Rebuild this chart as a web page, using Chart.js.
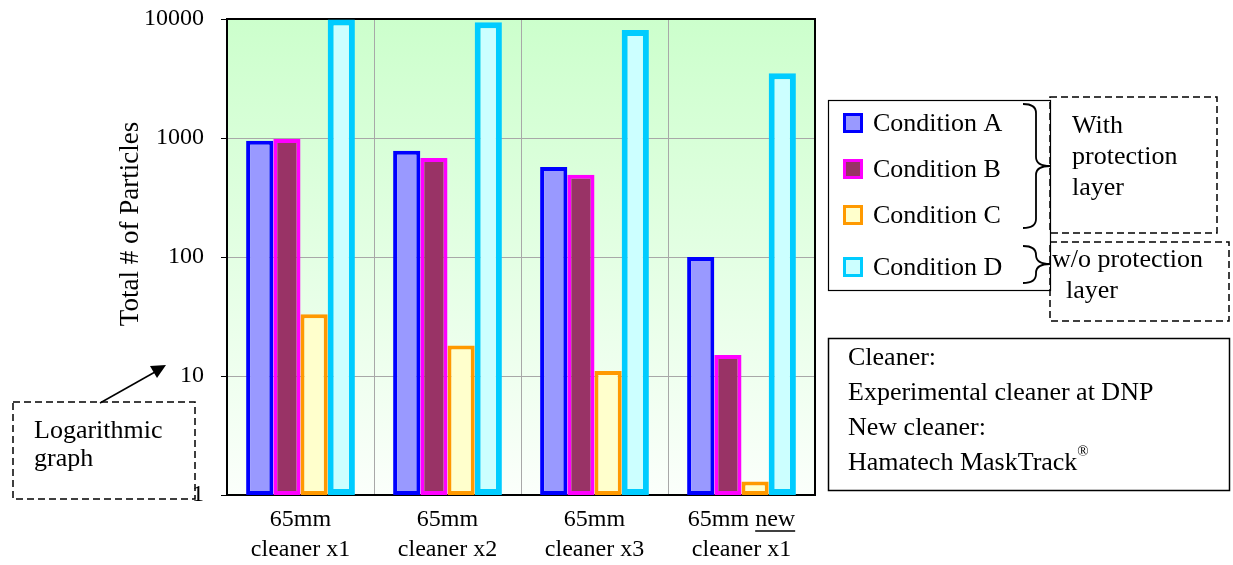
<!DOCTYPE html>
<html>
<head>
<meta charset="utf-8">
<script src="https://cdn.jsdelivr.net/npm/chart.js@4.4.0/dist/chart.umd.min.js"></script>
<style>
  html, body { margin: 0; padding: 0; background: #fff; }
  #wrap { width: 1233px; height: 565px; position: relative; }
</style>
</head>
<body>
<div id="wrap"><canvas id="chart"></canvas></div>
<script>
// data
const categories = [["65mm", "cleaner x1"], ["65mm", "cleaner x2"], ["65mm", "cleaner x3"], ["65mm new", "cleaner x1"]];
const seriesNames = ["Condition A", "Condition B", "Condition C", "Condition D"];
const condA = [950, 780, 570, 100];
const condB = [980, 680, 490, 15];
const condC = [33, 18, 11, 1.3];
const condD = [9900, 9400, 8100, 3500];
const yTicks = [1, 10, 100, 1000, 10000];

// styles
const fills = ["#9999ff", "#993366", "#ffffcc", "#ccffff"];
const borders = ["#0000ff", "#ff00ff", "#ff9900", "#00ccff"];
const borderWidths = [4, 4, 4, 6];

const SERIF = "'Liberation Serif', 'Times New Roman', serif";
Chart.defaults.font.family = SERIF;
Chart.defaults.color = "#000";

const values = [condA, condB, condC, condD];
const datasets = seriesNames.map((name, i) => ({
  label: name,
  data: values[i],
  backgroundColor: fills[i],
  borderColor: borders[i],
  borderWidth: borderWidths[i],
  borderSkipped: false,
  barPercentage: 1,
  categoryPercentage: 0.74
}));

function dashedRect(ctx, x, y, w, h) {
  ctx.save();
  ctx.setLineDash([7, 4]);
  ctx.lineWidth = 1.5;
  ctx.strokeStyle = "#000";
  ctx.strokeRect(x, y, w, h);
  ctx.restore();
}

// curly brace "}" with the tip pointing right
function brace(ctx, x0, yTop, yBot, yTip) {
  const x1 = x0 + 13, x2 = x0 + 27, r = 9;
  ctx.save();
  ctx.lineWidth = 1.8;
  ctx.strokeStyle = "#000";
  ctx.beginPath();
  ctx.moveTo(x0, yTop);
  ctx.quadraticCurveTo(x1, yTop, x1, yTop + r);
  ctx.lineTo(x1, yTip - r);
  ctx.quadraticCurveTo(x1, yTip, x2, yTip);
  ctx.quadraticCurveTo(x1, yTip, x1, yTip + r);
  ctx.lineTo(x1, yBot - r);
  ctx.quadraticCurveTo(x1, yBot, x0, yBot);
  ctx.stroke();
  ctx.restore();
}

const decor = {
  id: "decor",
  beforeDraw(chart) {
    const { ctx, chartArea: a } = chart;
    const g = ctx.createLinearGradient(0, a.top, 0, a.bottom);
    g.addColorStop(0, "#ccffcc");
    g.addColorStop(1, "#fbfffb");
    ctx.save();
    ctx.fillStyle = g;
    ctx.fillRect(a.left, a.top, a.right - a.left, a.bottom - a.top);
    ctx.restore();
  },
  beforeDatasetsDraw(chart) {
    const { ctx, chartArea: a } = chart;
    ctx.save();
    ctx.lineWidth = 2;
    ctx.strokeStyle = "#000";
    ctx.strokeRect(a.left, a.top, a.right - a.left, a.bottom - a.top);
    ctx.restore();
  },
  afterDraw(chart) {
    const { ctx } = chart;
    ctx.save();
    ctx.fillStyle = "#000";
    ctx.textBaseline = "middle";

    // y axis title
    ctx.save();
    ctx.translate(131, 224);
    ctx.rotate(-Math.PI / 2);
    ctx.textAlign = "center";
    ctx.font = "27px " + SERIF;
    ctx.fillText("Total # of Particles", 0, 0);
    ctx.restore();

    // underline "new" in the last category label
    const xs = chart.scales.x;
    const cx = xs.getPixelForValue(3);
    ctx.font = "24px " + SERIF;
    const wAll = ctx.measureText("65mm new").width;
    const wNew = ctx.measureText("new").width;
    ctx.lineWidth = 1.5;
    ctx.beginPath();
    ctx.moveTo(cx + wAll / 2 - wNew, 531);
    ctx.lineTo(cx + wAll / 2, 531);
    ctx.stroke();

    // legend
    ctx.lineWidth = 1.2;
    ctx.strokeRect(828.5, 100.5, 222, 190);
    const legY = [123, 169, 215, 267];
    chart.data.datasets.forEach((ds, i) => {
      ctx.fillStyle = ds.backgroundColor;
      ctx.fillRect(843, legY[i] - 10, 20, 20);
      ctx.strokeStyle = ds.borderColor;
      ctx.lineWidth = 3;
      ctx.strokeRect(844.5, legY[i] - 8.5, 17, 17);
      ctx.fillStyle = "#000";
      ctx.textAlign = "left";
      ctx.font = "26px " + SERIF;
      ctx.fillText(ds.label, 873, legY[i] + 1);
    });
    ctx.strokeStyle = "#000";

    brace(ctx, 1023, 104, 228, 166);
    brace(ctx, 1023, 246, 283, 264);

    dashedRect(ctx, 1050, 97, 167, 136);
    dashedRect(ctx, 1050, 242, 179, 79);
    ctx.font = "26px " + SERIF;
    ctx.textAlign = "left";
    ctx.fillText("With", 1072, 126);
    ctx.fillText("protection", 1072, 157);
    ctx.fillText("layer", 1072, 188);
    ctx.fillText("w/o protection", 1052, 260);
    ctx.fillText("layer", 1066, 291);

    // cleaner info box
    ctx.lineWidth = 1.5;
    ctx.strokeRect(828.5, 338.5, 401, 152);
    ctx.fillText("Cleaner:", 848, 358);
    ctx.fillText("Experimental cleaner at DNP", 848, 393);
    ctx.fillText("New cleaner:", 848, 428);
    ctx.fillText("Hamatech MaskTrack", 848, 463);
    const wMT = ctx.measureText("Hamatech MaskTrack").width;
    ctx.font = "15px " + SERIF;
    ctx.fillText("\u00ae", 848 + wMT, 452);

    // logarithmic note
    dashedRect(ctx, 13, 402, 182, 97);
    ctx.font = "26px " + SERIF;
    ctx.fillText("Logarithmic", 34, 431);
    ctx.fillText("graph", 34, 459);
    ctx.lineWidth = 1.5;
    ctx.beginPath();
    ctx.moveTo(100, 403);
    ctx.lineTo(155, 372);
    ctx.stroke();
    ctx.beginPath();
    ctx.moveTo(166, 365);
    ctx.lineTo(150, 366);
    ctx.lineTo(157, 378);
    ctx.closePath();
    ctx.fill();

    ctx.restore();
  }
};

new Chart(document.getElementById("chart"), {
  type: "bar",
  data: { labels: categories, datasets },
  options: {
    responsive: true,
    maintainAspectRatio: false,
    devicePixelRatio: 1,
    animation: false,
    layout: { padding: { top: 19, right: 418, left: 0, bottom: 0 } },
    plugins: { legend: { display: false }, tooltip: { enabled: false } },
    scales: {
      x: {
        grid: { color: "#a8a8a8", offset: true, drawTicks: false },
        border: { display: false },
        ticks: { font: { size: 24, lineHeight: 1.25 }, padding: 10, maxRotation: 0, autoSkip: false },
        afterFit(scale) { scale.height = 70; scale.paddingLeft = 0; scale.paddingRight = 0; }
      },
      y: {
        type: "logarithmic",
        min: 1,
        max: 10000,
        afterBuildTicks(scale) { scale.ticks = yTicks.map(v => ({ value: v })); },
        grid: { color: "#a8a8a8", tickColor: "#000", tickLength: 6 },
        border: { display: false },
        ticks: { font: { size: 24 }, padding: 17, autoSkip: false, callback: v => String(v) },
        afterFit(scale) { scale.width = 227; scale.paddingTop = 0; scale.paddingBottom = 0; }
      }
    }
  },
  plugins: [decor]
});
</script>
</body>
</html>
